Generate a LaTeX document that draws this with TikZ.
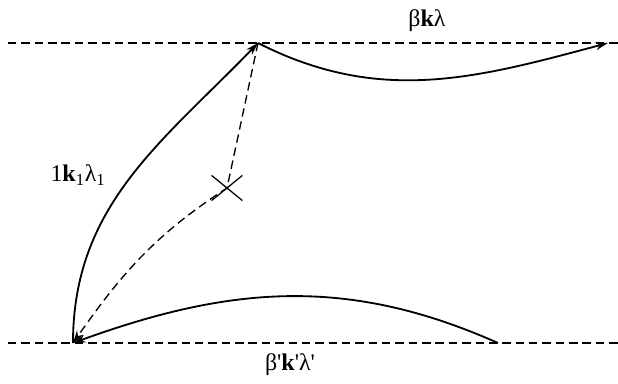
\documentclass[tikz,border=0pt]{standalone}
\usepackage{fontspec}
\setmainfont{Liberation Serif}
\usetikzlibrary{arrows.meta, shapes.misc}

\begin{document}
\begin{tikzpicture}[
    x=0.025cm, y=0.025cm,
    line/.style={line width=1.3pt, -{Stealth[length=9pt, width=5.5pt]}},
    dashline/.style={line width=0.95pt, dash pattern=on 6pt off 3.5pt},
    lbl/.style={font=\fontsize{17}{19}\selectfont, inner sep=0pt},
]
    \useasboundingbox (0,0) rectangle (618,383);

    % Niveaus
    \coordinate (tl) at (8,340);
    \coordinate (tr) at (618,340);
    \coordinate (bl) at (8,40);
    \coordinate (br) at (618,40);
    \draw[dashline] (tl) -- (tr);
    \draw[dashline] (bl) -- (br);

    % Punkte
    \coordinate (v) at (258,340);
    \coordinate (w) at (73,40);
    \coordinate (kout) at (608,340);
    \coordinate (kin) at (498,40);
    \node[draw, cross out, line width=0.9pt, inner sep=0pt, minimum width=21, minimum height=17] (x) at (227,195) {};

    % Bahnen
    \draw[line] (w) to[out=90, in=226] (v);
    \draw[line] (v) to[out=-27, in=195] (kout);
    \draw[line] (kin) to[out=156, in=20] (w);
    \draw[dashline, -{Stealth[length=9pt, width=5.5pt]}] (v) -- (x.center) to[out=213, in=55] (w);

    % Beschriftung
    \node[lbl] (lab1) at (427,362) {β\textbf{k}λ};
    \node[lbl] (lab2) at (78,208) {1\textbf{k}\textsubscript{1}λ\textsubscript{1}};
    \node[lbl] (lab3) at (290,18) {β\textquotesingle\textbf{k}\textquotesingle λ\textquotesingle};
\end{tikzpicture}
\end{document}
